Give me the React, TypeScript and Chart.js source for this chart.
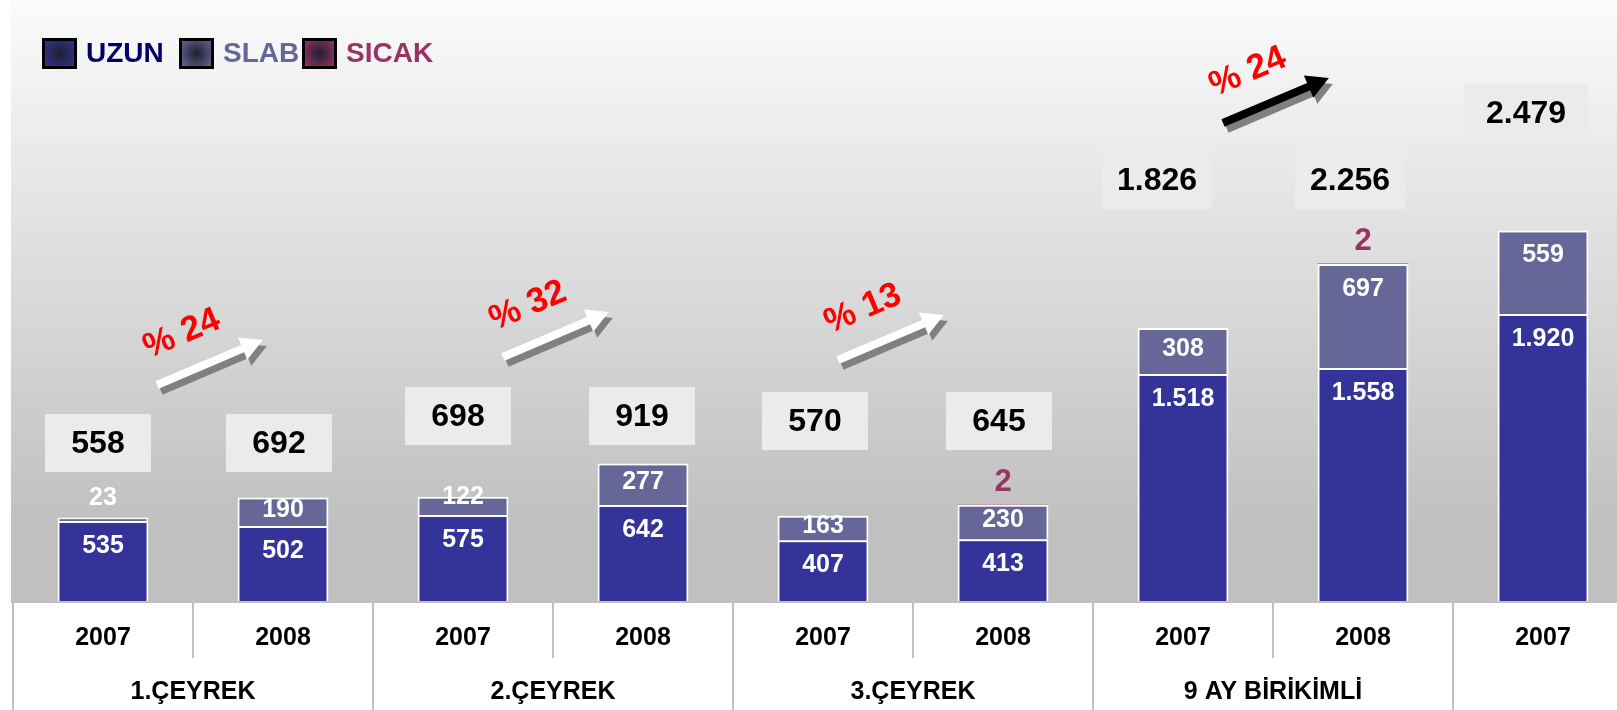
import React, { useEffect, useRef } from "react";
import { Chart, registerables } from "chart.js";

Chart.register(...registerables);

// ---------- data ----------
const categories = ["2007", "2008", "2007", "2008", "2007", "2008", "2007", "2008", "2007"];
const groupLabels = ["1.ÇEYREK", "2.ÇEYREK", "3.ÇEYREK", "9 AY BİRİKİMLİ"];
const seriesNames = ["UZUN", "SLAB", "SICAK"];
const uzun = [535, 502, 575, 642, 407, 413, 1518, 1558, 1920];
const slab = [23, 190, 122, 277, 163, 230, 308, 697, 559];
const sicak = [0, 0, 0, 0, 0, 2, 0, 2, 0];
const totals = [558, 692, 698, 919, 570, 645, 1826, 2256, 2479];

// ---------- layout / style (annotations) ----------
const FONT = "'Liberation Sans', Arial, Helvetica, sans-serif";
const COLORS = ["#333399", "#666699", "#993366"];
const LEGEND_TEXT = ["#000066", "#666699", "#993366"];
const LEGEND_X = [42, 179, 302];
const BOX_DX = [-5, -4, -5, -1, -8, -4, -26, -13, -17];
const BOX_Y = [443, 443, 416, 416, 421, 421, 180, 180, 113];
const BOX_W = [106, 106, 106, 106, 106, 106, 110, 110, 124];
const ARROWS = [
  { pair: 0, dx: 54, y: 385, fill: "#ffffff" },
  { pair: 1, dx: 40, y: 357, fill: "#ffffff" },
  { pair: 2, dx: 15, y: 360, fill: "#ffffff" },
  { pair: 3, dx: 40, y: 123, fill: "#000000" },
];

const fmt = (n: number) => String(n).replace(/\B(?=(\d{3})+(?!\d))/g, ".");

function drawArrow(ctx: CanvasRenderingContext2D, x: number, y: number, fill: string) {
  const len = 115;
  const ang = (-23 * Math.PI) / 180;
  const pts: [number, number][] = [
    [0, -4], [len - 22, -4], [len - 22, -12], [len, 0], [len - 22, 12], [len - 22, 4], [0, 4],
  ];
  const poly = (ox: number, oy: number, color: string) => {
    ctx.beginPath();
    pts.forEach(([px, py], k) => {
      const rx = x + ox + px * Math.cos(ang) - py * Math.sin(ang);
      const ry = y + oy + px * Math.sin(ang) + py * Math.cos(ang);
      if (k === 0) ctx.moveTo(rx, ry);
      else ctx.lineTo(rx, ry);
    });
    ctx.closePath();
    ctx.fillStyle = color;
    ctx.fill();
  };
  poly(4, 6, "#808080");
  poly(0, 0, fill);
}

const decorPlugin = {
  id: "decor",
  beforeDraw(chart: any) {
    const { ctx, chartArea, width, height } = chart;
    ctx.save();
    ctx.fillStyle = "#ffffff";
    ctx.fillRect(0, 0, width, height);
    const bottom = chartArea.bottom;
    const g = ctx.createLinearGradient(0, 0, 0, bottom);
    g.addColorStop(0, "#fbfbfb");
    g.addColorStop(0.87, "#c0c0c0");
    g.addColorStop(1, "#c0c0c0");
    ctx.fillStyle = g;
    ctx.fillRect(11, 0, width - 11, bottom);
    ctx.restore();
  },
  afterDatasetsDraw(chart: any) {
    const { ctx, chartArea } = chart;
    const xs = chart.scales.x;
    const bottom = chartArea.bottom;
    const m0 = chart.getDatasetMeta(0).data;
    const m1 = chart.getDatasetMeta(1).data;
    const m2 = chart.getDatasetMeta(2).data;
    ctx.save();

    // table below axis
    ctx.strokeStyle = "#c0c0c0";
    ctx.lineWidth = 2;
    ctx.beginPath();
    ctx.moveTo(11, bottom + 1);
    ctx.lineTo(chart.width, bottom + 1);
    ctx.moveTo(13, bottom);
    ctx.lineTo(13, chart.height);
    for (let i = 0; i < categories.length - 1; i++) {
      const sx = (xs.getPixelForValue(i) + xs.getPixelForValue(i + 1)) / 2;
      ctx.moveTo(sx, bottom);
      ctx.lineTo(sx, i % 2 === 0 ? bottom + 57 : chart.height);
    }
    ctx.stroke();

    ctx.textAlign = "center";
    ctx.textBaseline = "middle";
    ctx.fillStyle = "#000000";
    ctx.font = `bold 25px ${FONT}`;
    categories.forEach((c, i) => ctx.fillText(c, xs.getPixelForValue(i), bottom + 37));
    groupLabels.forEach((g, k) => {
      const gx = (xs.getPixelForValue(2 * k) + xs.getPixelForValue(2 * k + 1)) / 2;
      ctx.fillText(g, gx, bottom + 91);
    });

    // value labels
    for (let i = 0; i < categories.length; i++) {
      const x = xs.getPixelForValue(i);
      ctx.font = `bold 25px ${FONT}`;
      const b0 = m0[i] as any;
      ctx.fillStyle = "#ffffff";
      ctx.fillText(fmt(uzun[i]), x, b0.y + Math.min(25, (b0.base - b0.y) / 2));
      const b1 = m1[i] as any;
      const h = b1.base - b1.y;
      let ly: number;
      if (h < 6) ly = b1.y - 19;
      else if (h < 20) ly = b1.y;
      else ly = b1.y + Math.min(25, h / 2 - 2);
      ctx.fillText(fmt(slab[i]), x, ly);
      if (sicak[i] > 0) {
        const b2 = m2[i] as any;
        ctx.fillStyle = COLORS[2];
        ctx.font = `bold 31px ${FONT}`;
        ctx.fillText(fmt(sicak[i]), x, b2.y - 22);
      }
    }

    // total boxes
    ctx.font = `bold 32px ${FONT}`;
    for (let i = 0; i < totals.length; i++) {
      const cx = xs.getPixelForValue(i) + BOX_DX[i];
      const w = BOX_W[i];
      ctx.fillStyle = "#ebebeb";
      ctx.fillRect(cx - w / 2, BOX_Y[i] - 29, w, 58);
      ctx.fillStyle = "#000000";
      ctx.fillText(fmt(totals[i]), cx, BOX_Y[i] + 1);
    }

    // growth arrows
    ARROWS.forEach((a) => {
      const i0 = 2 * a.pair;
      const pct = Math.round((totals[i0 + 1] / totals[i0] - 1) * 100);
      const tx = xs.getPixelForValue(i0) + a.dx;
      drawArrow(ctx, tx, a.y, a.fill);
      ctx.save();
      ctx.translate(tx + 25, a.y - 51);
      ctx.rotate((-23 * Math.PI) / 180);
      ctx.fillStyle = "#ff0000";
      ctx.font = `bold 35px ${FONT}`;
      ctx.fillText(`% ${pct}`, 0, 0);
      ctx.restore();
    });

    // legend
    ctx.textAlign = "left";
    ctx.font = `bold 28px ${FONT}`;
    chart.data.datasets.forEach((ds: any, k: number) => {
      const lx = LEGEND_X[k];
      const ly = 38;
      const w = 35;
      const hh = 31;
      const rg = ctx.createRadialGradient(lx + w / 2, ly + hh / 2, 0, lx + w / 2, ly + hh / 2, 20);
      rg.addColorStop(0, "#202030");
      rg.addColorStop(1, ds.backgroundColor);
      ctx.fillStyle = rg;
      ctx.fillRect(lx, ly, w, hh);
      ctx.strokeStyle = "#000000";
      ctx.lineWidth = 3;
      ctx.strokeRect(lx + 1.5, ly + 1.5, w - 3, hh - 3);
      ctx.fillStyle = LEGEND_TEXT[k];
      ctx.fillText(ds.label, lx + w + 9, ly + hh / 2 + 1);
    });

    ctx.restore();
  },
};

export default function App() {
  const ref = useRef<HTMLCanvasElement | null>(null);
  useEffect(() => {
    if (!ref.current) return;
    const chart = new Chart(ref.current, {
      type: "bar",
      data: {
        labels: categories,
        datasets: [
          { label: seriesNames[0], data: uzun, backgroundColor: COLORS[0], borderColor: "#ffffff", borderWidth: 2 },
          { label: seriesNames[1], data: slab, backgroundColor: COLORS[1], borderColor: "#ffffff", borderWidth: 2 },
          { label: seriesNames[2], data: sicak, backgroundColor: COLORS[2], borderColor: "#ffffff", borderWidth: 0 },
        ],
      },
      options: {
        responsive: false,
        animation: false,
        layout: { padding: { left: 13, right: 7, top: 3, bottom: 109 } },
        datasets: { bar: { categoryPercentage: 1, barPercentage: 0.505 } },
        scales: {
          x: { display: false, stacked: true },
          y: { display: false, stacked: true, min: 0, max: 4000 },
        },
        plugins: { legend: { display: false }, tooltip: { enabled: false } },
      },
      plugins: [decorPlugin],
    });
    return () => chart.destroy();
  }, []);
  return (
    <div style={{ position: "fixed", left: 0, top: 0, width: 1617, height: 710, overflow: "hidden", background: "#fff" }}>
      <canvas ref={ref} width={1640} height={710} style={{ display: "block" }} />
    </div>
  );
}
